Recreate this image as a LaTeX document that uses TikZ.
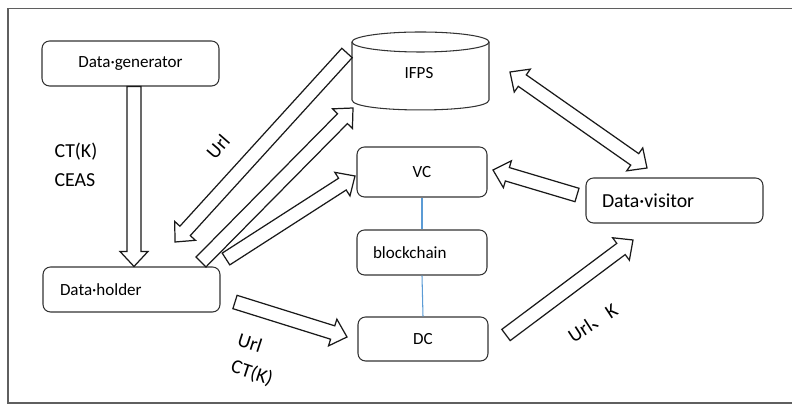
\documentclass[tikz,border=0pt]{standalone}
\usepackage{fontspec}
\setmainfont{Carlito}
\newfontfamily\cjk{Noto Sans CJK SC}
\usetikzlibrary{calc}

\definecolor{framegray}{HTML}{5F5F5F}
\definecolor{chainblue}{HTML}{5B9BD5}

\tikzset{
  box/.style={draw=black!80, line width=0.6pt, rounded corners=0.15cm,
    minimum width=3.54cm, minimum height=0.9cm, font=\fontsize{9.7}{11}\selectfont},
  smallbox/.style={box, minimum width=2.6cm},
  blk/.style={draw=black!90, line width=0.7pt, line join=miter},
  lbl/.style={font=\fontsize{11.3}{13}\selectfont},
}

% hollow block arrow, tail #1 to tip #2
\newcommand{\blkarrow}[2]{%
  \coordinate (hb) at ($(#2)!0.3cm!(#1)$);
  \draw[blk] ($(#1)!0.14cm!90:(#2)$) -- ($(hb)!0.14cm!-90:(#1)$) -- ($(hb)!0.28cm!-90:(#1)$)
    -- (#2) -- ($(hb)!0.28cm!90:(#1)$) -- ($(hb)!0.14cm!90:(#1)$) -- ($(#1)!0.14cm!-90:(#2)$) -- cycle;
}
% hollow block arrow with two heads
\newcommand{\dblarrow}[2]{%
  \coordinate (ha) at ($(#1)!0.3cm!(#2)$);
  \coordinate (hb) at ($(#2)!0.3cm!(#1)$);
  \draw[blk] (#1) -- ($(ha)!0.28cm!90:(#2)$) -- ($(ha)!0.14cm!90:(#2)$) -- ($(hb)!0.14cm!-90:(#1)$)
    -- ($(hb)!0.28cm!-90:(#1)$) -- (#2) -- ($(hb)!0.28cm!90:(#1)$) -- ($(hb)!0.14cm!90:(#1)$)
    -- ($(ha)!0.14cm!-90:(#2)$) -- ($(ha)!0.28cm!-90:(#2)$) -- cycle;
}

\begin{document}
\begin{tikzpicture}[x=0.02cm,y=-0.02cm]
  \useasboundingbox (0,0) rectangle (792,404);
  \draw[framegray, line width=1.1pt] (792,8.5) -- (8,8.5) -- (8,403) -- (792,403);% page frame

  % boxes
  \node[box] (gen) at (130.5,63.5) {Data·generator};
  \node[box, text width=2.86cm, inner xsep=0.34cm, align=left] (holder) at (131.5,289.5) {Data·holder};
  \node[smallbox, minimum height=1cm] (vc) at (422,172) {VC};
  \node[smallbox, text width=1.96cm, inner xsep=0.32cm, align=left] (bc) at (422,252.5) {blockchain};
  \node[smallbox, minimum height=0.88cm] (dc) at (423,339) {DC};
  \node[box, text width=2.9cm, inner xsep=0.32cm, align=left, font=\fontsize{11.3}{13}\selectfont] (visitor) at (674.5,200.5) {Data·visitor};

  % IFPS store
  \draw[draw=black!80, line width=0.6pt] (420.5,42) ellipse [x radius=68.5, y radius=10];
  \draw[draw=black!80, line width=0.6pt] (352,42) -- (352,100) .. controls (352,113.3) and (489,113.3) .. (489,100) -- (489,42);
  \node[font=\fontsize{9.7}{11}\selectfont] (ifps) at (419,73) {IFPS};

  % chain links
  \draw[chainblue, line width=0.6pt] (vc.south) -- (bc.north);
  \draw[chainblue, line width=0.6pt] (bc.south) -- (dc.north);

  % arrow ends
  \coordinate (genS) at ([xshift=0.07cm]gen.south);
  \coordinate (holdN) at ([xshift=0.05cm]holder.north);
  \coordinate (urlT) at (347,53);   % IFPS side of Url arrow
  \coordinate (urlH) at (175,242);  % holder side of Url arrow
  \coordinate (upT) at (201,262);
  \coordinate (upH) at (353,108);
  \coordinate (vcT) at (226,259);
  \coordinate (vcH) at (355,176);
  \coordinate (dcT) at (235,302);
  \coordinate (dcH) at (347,337);
  \coordinate (visT) at (506,335);
  \coordinate (visH) at (633,240);
  \coordinate (backT) at (577,195);
  \coordinate (backH) at (493,170);
  \coordinate (ifpsE) at (510,72);
  \coordinate (visE) at (647,168);

  \blkarrow{genS}{holdN}
  \blkarrow{urlT}{urlH}
  \blkarrow{upT}{upH}
  \blkarrow{vcT}{vcH}
  \blkarrow{dcT}{dcH}
  \blkarrow{visT}{visH}
  \blkarrow{backT}{backH}
  \dblarrow{ifpsE}{visE}

  % labels
  \node[lbl] (ctk) at (76,152) {CT(K)};
  \node[lbl] (ceas) at (75,180) {CEAS};
  \node[lbl, rotate=49] (url1) at (218,147) {Url};
  \node[lbl, rotate=-18] (url2) at (250,343) {Url};
  \node[lbl, rotate=-18] (ctk2) at (252,373) {CT(K)};
  \node[lbl, rotate=33] (urlk) at (593,323) {Url{\cjk 、}K};
\end{tikzpicture}
\end{document}
